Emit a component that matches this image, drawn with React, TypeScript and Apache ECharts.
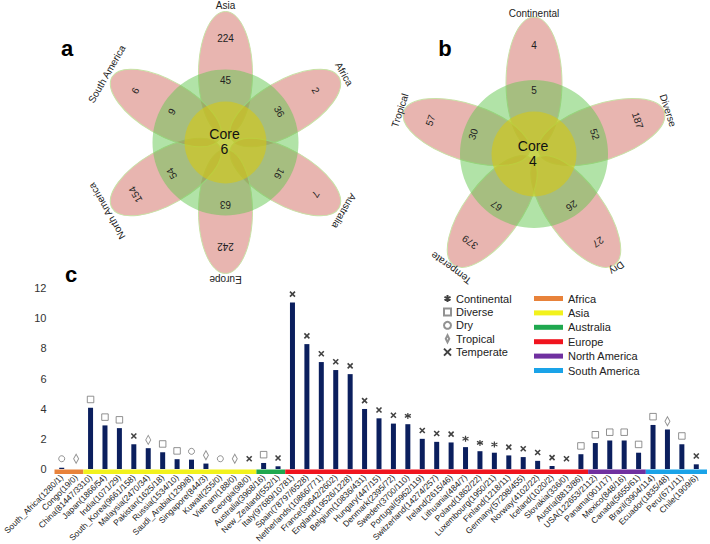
import React, { useEffect, useRef } from 'react';
import * as echarts from 'echarts';

const FONT = '"Liberation Sans", Arial, sans-serif';

// ---------- bar chart data ----------
const countries = [
  'South_Africa(1280/1)', 'Congo(19/0)', 'China(81447/3310)', 'Japan(1866/54)', 'India(1071/29)',
  'South_Korea(9661/158)', 'Malaysia(2470/34)', 'Pakistan(1625/18)', 'Russia(1534/10)', 'Saudi_Arabia(1299/8)',
  'Singapore(844/3)', 'Kuwait(255/0)', 'Vietnam(188/0)', 'Georgia(98/0)', 'Australia(3968/16)',
  'New_Zealand(552/1)', 'Italy(97689/10781)', 'Spain(78797/6528)', 'Netherlands(10866/771)', 'France(39642/2602)',
  'England(19526/1228)', 'Belgium(10836/431)', 'Hungary(447/15)', 'Denmark(2395/72)', 'Sweden(3700/110)',
  'Portugal(5962/119)', 'Switzerland(14274/257)', 'Ireland(2615/46)', 'Lithuania(484/7)', 'Poland(1862/22)',
  'Luxembourg(1950/21)', 'Finland(1218/11)', 'Germany(57298/455)', 'Norway(4102/22)', 'Iceland(1020/2)',
  'Slovakia(336/0)', 'Austria(8813/86)', 'USA(122653/2112)', 'Panama(901/17)', 'Mexico(848/16)',
  'Canada(5655/61)', 'Brazil(3904/114)', 'Ecuador(1835/48)', 'Peru(671/11)', 'Chile(1909/6)',
];
const rates = [
  0.08, 0, 4.06, 2.89, 2.71,
  1.64, 1.38, 1.11, 0.65, 0.62,
  0.36, 0, 0, 0, 0.4,
  0.18, 11.04, 8.28, 7.09, 6.56,
  6.29, 3.98, 3.36, 3.01, 2.97,
  2.0, 1.8, 1.76, 1.45, 1.18,
  1.08, 0.9, 0.79, 0.54, 0.2,
  0, 0.98, 1.72, 1.89, 1.89,
  1.08, 2.92, 2.62, 1.64, 0.31,
];
const climates = [
  'Dry', 'Tropical', 'Diverse', 'Diverse', 'Diverse',
  'Temperate', 'Tropical', 'Diverse', 'Diverse', 'Dry',
  'Tropical', 'Dry', 'Tropical', 'Temperate', 'Diverse',
  'Temperate', 'Temperate', 'Temperate', 'Temperate', 'Temperate',
  'Temperate', 'Temperate', 'Temperate', 'Temperate', 'Continental',
  'Temperate', 'Temperate', 'Temperate', 'Continental', 'Continental',
  'Continental', 'Temperate', 'Temperate', 'Temperate', 'Temperate',
  'Temperate', 'Diverse', 'Diverse', 'Diverse', 'Diverse',
  'Diverse', 'Diverse', 'Tropical', 'Diverse', 'Temperate',
];
const regionNames = ['Africa', 'Asia', 'Australia', 'Europe', 'North America', 'South America'];
const countryRegion = [
  0, 0, 1, 1, 1, 1, 1, 1, 1, 1, 1, 1, 1, 1, 2, 2,
  3, 3, 3, 3, 3, 3, 3, 3, 3, 3, 3, 3, 3, 3, 3, 3, 3, 3, 3, 3, 3,
  4, 4, 4, 4, 5, 5, 5, 5,
];
const climateNames = ['Continental', 'Diverse', 'Dry', 'Tropical', 'Temperate'];

// ---------- flower diagrams ----------
const flowerANames = ['Asia', 'Africa', 'Australia', 'Europe', 'North America', 'South America'];
const flowerAUnique = [224, 2, 7, 242, 154, 6];
const flowerAShared = [45, 36, 16, 63, 54, 9];
const flowerACore = 6;
const flowerBNames = ['Continental', 'Diverse', 'Dry', 'Temperate', 'Tropical'];
const flowerBUnique = [4, 187, 27, 379, 57];
const flowerBShared = [5, 52, 26, 67, 30];
const flowerBCore = 4;

// styles
const regionColors = ['#e8823a', '#f2f21c', '#1fa84f', '#f0141e', '#7030a0', '#1aa3e8'];
const climateStyle: Record<string, any> = {
  Continental: { symbol: 'path://M5,0L5,10M0.67,2.5L9.33,7.5M0.67,7.5L9.33,2.5', size: 6, itemStyle: { color: 'transparent', borderColor: '#111', borderWidth: 1.2 } },
  Diverse: { symbol: 'rect', size: 6.5, itemStyle: { color: '#fff', borderColor: '#777', borderWidth: 1 } },
  Dry: { symbol: 'circle', size: 6, itemStyle: { color: '#fff', borderColor: '#777', borderWidth: 1 } },
  Tropical: { symbol: 'path://M5,0L10,10L5,20L0,10Z', size: [5, 9], itemStyle: { color: '#fff', borderColor: '#777', borderWidth: 1 } },
  Temperate: { symbol: 'path://M0,0L10,10M10,0L0,10', size: 5, itemStyle: { color: 'transparent', borderColor: '#111', borderWidth: 1.6 } },
};

function flower(
  cx: number, cy: number, names: string[], outer: number[], inner: number[], core: number,
  g: { a: number; b: number; d: number; rG: number; rC: number; rL: number; rO: number; rI: number }
) {
  const n = names.length;
  const els: any[] = [];
  const texts: any[] = [];
  for (let i = 0; i < n; i++) {
    const th = (90 - (360 / n) * i) * Math.PI / 180;
    const ux = Math.cos(th), uy = -Math.sin(th);
    els.push({
      type: 'ellipse', silent: true, z: 1,
      x: cx + g.d * ux, y: cy + g.d * uy, rotation: th,
      shape: { cx: 0, cy: 0, rx: g.a, ry: g.b },
      style: { fill: 'rgba(205,90,80,0.45)', stroke: '#c8e2a6', lineWidth: 1 },
    });
    const rot = th - Math.PI / 2;
    const mk = (r: number, t: string) => ({
      type: 'text', silent: true, z: 5,
      x: cx + r * ux, y: cy + r * uy, rotation: rot,
      style: { text: t, fontSize: 10, fontFamily: FONT, fill: '#222', align: 'center', verticalAlign: 'middle' },
    });
    texts.push(mk(g.rL, names[i]));
    texts.push(mk(g.rO, String(outer[i])));
    texts.push(mk(g.rI, String(inner[i])));
  }
  els.push({ type: 'circle', silent: true, z: 2, shape: { cx, cy, r: g.rG }, style: { fill: 'rgba(100,200,80,0.5)' } });
  els.push({ type: 'circle', silent: true, z: 3, shape: { cx, cy, r: g.rC }, style: { fill: 'rgba(215,200,20,0.6)' } });
  texts.push({
    type: 'text', silent: true, z: 5, x: cx - 1, y: cy - 1,
    style: { text: 'Core\n' + core, fontSize: 14, lineHeight: 15, fontFamily: FONT, fill: '#111', align: 'center', verticalAlign: 'middle' },
  });
  return els.concat(texts);
}

export default function App() {
  const ref = useRef<HTMLDivElement>(null);
  useEffect(() => {
    document.body.style.margin = '0';
    document.body.style.overflow = 'hidden';
    const chart = echarts.init(ref.current!, null, { renderer: 'svg' });

    // region segments derived from countryRegion
    const segments: { region: number; start: number; end: number }[] = [];
    countryRegion.forEach((r, i) => {
      const last = segments[segments.length - 1];
      if (last && last.region === r) last.end = i;
      else segments.push({ region: r, start: i, end: i });
    });
    const lastIdx = countryRegion.length - 1;

    const scatterSeries = climateNames.map((c) => ({
      type: 'scatter', name: c, symbol: climateStyle[c].symbol, symbolSize: climateStyle[c].size,
      itemStyle: climateStyle[c].itemStyle, z: 5, silent: true,
      data: rates.map((v, i) => (climates[i] === c ? [i, Math.max(v + 0.55, 0.68)] : null)).filter(Boolean),
    }));

    const regionSeries = regionNames.map((name, ri) => ({
      type: 'custom', name, silent: true, z: 4,
      itemStyle: { color: regionColors[ri] },
      encode: { x: [0, 1], y: 2 },
      data: segments.filter((s) => s.region === ri).map((s) => [s.start, s.end, 0]),
      renderItem: (params: any, api: any) => {
        const s = api.coord([api.value(0), api.value(2)]);
        const e = api.coord([api.value(1), api.value(2)]);
        const bw = api.size([1, 0])[0];
        const extra = api.value(1) === lastIdx ? 3.5 : 0;
        return {
          type: 'rect',
          shape: { x: s[0] - bw / 2, y: s[1] + 0.5, width: e[0] - s[0] + bw + extra, height: 4.5 },
          style: { fill: regionColors[ri] },
        };
      },
    }));

    const graphic: any[] = [
      ...flower(225.5, 142.5, flowerANames, flowerAUnique, flowerAShared, flowerACore,
        { a: 62, b: 27, d: 69, rG: 73, rC: 41, rL: 137, rO: 104, rI: 62 }),
      ...flower(534, 154, flowerBNames, flowerBUnique, flowerBShared, flowerBCore,
        { a: 66, b: 28, d: 71, rG: 74, rC: 42.5, rL: 141, rO: 109, rI: 64 }),
      { type: 'text', x: 67, y: 48, z: 6, style: { text: 'a', fontSize: 22, fontWeight: 'bold', fontFamily: FONT, fill: '#000', align: 'center', verticalAlign: 'middle' } },
      { type: 'text', x: 445, y: 48, z: 6, style: { text: 'b', fontSize: 22, fontWeight: 'bold', fontFamily: FONT, fill: '#000', align: 'center', verticalAlign: 'middle' } },
      { type: 'text', x: 71, y: 274, z: 6, style: { text: 'c', fontSize: 22, fontWeight: 'bold', fontFamily: FONT, fill: '#000', align: 'center', verticalAlign: 'middle' } },
    ];

    chart.setOption({
      animation: false,
      textStyle: { fontFamily: FONT },
      grid: { left: 54.5, right: 6.5, top: 288, bottom: 75, containLabel: false, outerBoundsMode: 'none' },
      xAxis: {
        type: 'category', data: countries,
        axisLine: { show: false }, axisTick: { show: false },
        axisLabel: { interval: 0, rotate: 45, fontSize: 8.4, color: '#222', margin: 7, fontFamily: FONT },
      },
      yAxis: {
        type: 'value', min: 0, max: 12, interval: 2,
        axisLine: { show: false }, axisTick: { show: false }, splitLine: { show: false },
        axisLabel: { fontSize: 11, color: '#333', margin: 8, fontFamily: FONT },
      },
      legend: [
        {
          orient: 'vertical', left: 438, top: 288, itemWidth: 7, itemHeight: 7, itemGap: 2.4,
          selectedMode: false, data: climateNames,
          textStyle: { fontSize: 11, color: '#222', fontFamily: FONT },
        },
        {
          orient: 'vertical', left: 529, top: 288, itemWidth: 29, itemHeight: 5, itemGap: 3.4,
          selectedMode: false, data: regionNames.map((n) => ({ name: n, icon: 'rect' })),
          textStyle: { fontSize: 11, color: '#222', fontFamily: FONT },
        },
      ],
      series: [
        {
          type: 'bar', name: 'rate', data: rates, barWidth: 5, silent: true,
          itemStyle: { color: '#0b1f5e' },
        },
        ...scatterSeries,
        ...regionSeries,
      ],
      graphic,
    });
    return () => chart.dispose();
  }, []);
  return <div ref={ref} style={{ width: 710, height: 544 }} />;
}
